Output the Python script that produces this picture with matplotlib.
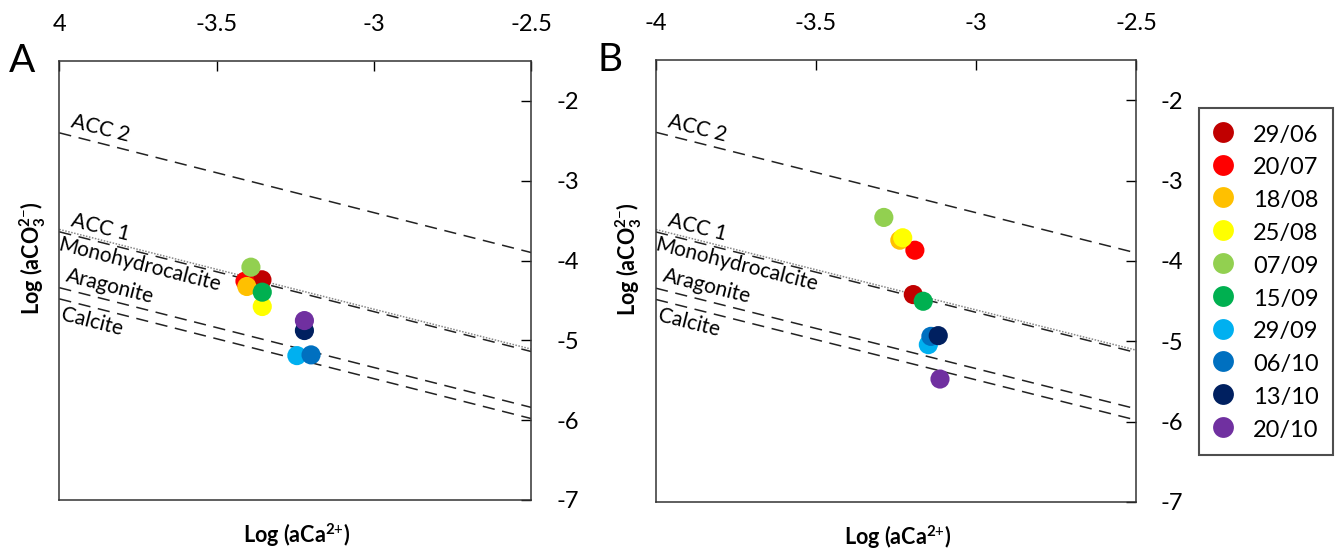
import numpy as np
import matplotlib
matplotlib.use('Agg')
import matplotlib.pyplot as plt
from matplotlib.lines import Line2D

plt.rcParams['font.family'] = ['Lato', 'DejaVu Sans']
plt.rcParams['mathtext.fontset'] = 'custom'
plt.rcParams['mathtext.rm'] = 'Lato'
plt.rcParams['mathtext.bf'] = 'Lato:bold'
plt.rcParams['mathtext.it'] = 'Lato:italic'

# sampling dates and colours
dates = ['29/06', '20/07', '18/08', '25/08', '07/09', '15/09', '29/09', '06/10', '13/10', '20/10']
colors = ['#C00000', '#FF0000', '#FFC000', '#FFFF00', '#92D050', '#00B050',
          '#00B0F0', '#0070C0', '#002060', '#7030A0']

# panel A: log(aCa2+), log(aCO3 2-)
logCa_A = [-3.356, -3.410, -3.404, -3.355, -3.391, -3.355, -3.245, -3.200, -3.221, -3.221]
logCO3_A = [-4.241, -4.258, -4.325, -4.576, -4.083, -4.396, -5.191, -5.182, -4.877, -4.752]

# panel B
logCa_B = [-3.196, -3.191, -3.238, -3.229, -3.288, -3.165, -3.149, -3.141, -3.118, -3.1125]
logCO3_B = [-4.419, -3.867, -3.742, -3.712, -3.459, -4.502, -5.042, -4.939, -4.930, -5.470]

# solubility lines: log Ksp, log(aCO3) = logKsp - log(aCa)
phases = ['ACC 2', 'ACC 1', 'Monohydrocalcite', 'Aragonite', 'Calcite']
log_ksp = [-6.40, -7.64, -7.61, -8.34, -8.48]
line_styles = [(0, (8, 5)), (0, (8, 5)), (0, (1, 1)), (0, (8, 5)), (0, (8, 5))]
line_colors = ['#222222', '#222222', '#888888', '#222222', '#222222']

xticks = [-4, -3.5, -3, -2.5]
xticklabels_A = ['4', '-3.5', '-3', '-2.5']
xticklabels_B = ['-4', '-3.5', '-3', '-2.5']
yticks = [-7, -6, -5, -4, -3, -2]

W, H = 1343, 549
fig = plt.figure(figsize=(W / 100, H / 100), dpi=100)
axA = fig.add_axes([59.3 / W, 1 - 500 / H, 472 / W, 439 / H])
axB = fig.add_axes([656 / W, 1 - 502 / H, 480 / W, 442 / H])

# label offsets (x, dy, va) for each phase line
lab_pos = [(-3.97, 0.05, 'bottom'), (-3.97, 0.05, 'bottom'), (-3.995, -0.06, 'top'),
           (-3.985, 0.05, 'bottom'), (-3.985, -0.06, 'top')]


def draw(ax, xs, ys, xtl, panel):
    xx = np.array([-4, -2.5])
    for name, k, ls, c, (lx, dy, va) in zip(phases, log_ksp, line_styles, line_colors, lab_pos):
        ax.plot(xx, k - xx, ls=ls, color=c, lw=1.1, zorder=1)
        ax.text(lx, k - lx + dy, name, fontsize=15, rotation=-45, rotation_mode='anchor',
                transform_rotates_text=True, ha='left', va=va, zorder=2)
    for x, y, c in zip(xs, ys, colors):
        ax.scatter(x, y, s=190, color=c, edgecolors='none', zorder=3)

    ax.set_xlim(-4, -2.5)
    ax.set_ylim(-7, -1.5)
    ax.xaxis.tick_top()
    ax.yaxis.tick_right()
    ax.set_xticks(xticks)
    ax.set_xticklabels(xtl)
    ax.set_yticks(yticks)
    ax.set_yticklabels([str(t) for t in yticks])
    ax.tick_params(axis='x', direction='in', length=7, width=1, pad=19, labelsize=17)
    ax.tick_params(axis='y', direction='in', length=7, width=1, pad=18, labelsize=17)
    for s in ax.spines.values():
        s.set_linewidth(1.1)
        s.set_color('#333333')

    ax.text(0.503, -0.08, r'Log (aCa$^{\mathbf{2}{+}}$)', transform=ax.transAxes,
            ha='center', va='center', fontsize=15.5, fontweight='bold')
    ax.text(-0.056, 0.55, r'Log (aCO$_\mathbf{3}^{\mathbf{2}{-}}$)', transform=ax.transAxes,
            ha='center', va='center', rotation=90, fontsize=15.5, fontweight='bold')
    ax.text(-0.08, 1.0, panel, transform=ax.transAxes, ha='center', va='center', fontsize=28)


draw(axA, logCa_A, logCO3_A, xticklabels_A, 'A')
draw(axB, logCa_B, logCO3_B, xticklabels_B, 'B')
axA.texts[-1].set_x((22 - 59.3) / 472)
axB.texts[-1].set_x((610 - 656) / 480)

handles = [Line2D([], [], ls='none', marker='o', markersize=15, color=c, markeredgewidth=0)
           for c in colors]
leg = fig.legend(handles, dates, loc='upper left', bbox_to_anchor=(1199 / W, 1 - 108 / H),
                 borderaxespad=0, frameon=True, fancybox=False, fontsize=17,
                 labelspacing=0.40, handletextpad=0.85, borderpad=0.6,
                 handlelength=0.85, handleheight=1.1)
leg.get_frame().set_edgecolor('#222222')
leg.get_frame().set_linewidth(1.5)

fig.savefig('out.png', dpi=100)
